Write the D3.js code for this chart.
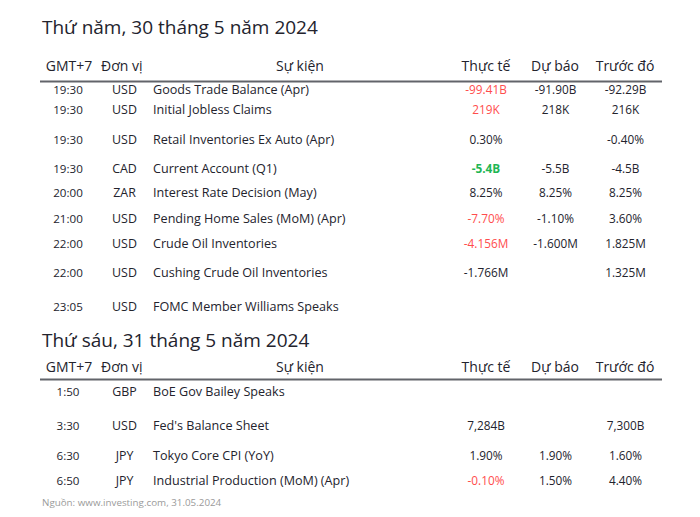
<!DOCTYPE html>
<html><head><meta charset="utf-8">
<script src="https://cdn.jsdelivr.net/npm/d3@7"></script>
<style>body{margin:0;background:#fff}svg{display:block}</style>
</head><body><div id="chart"></div>
<script>
// ---- data ----
const dayTitles = ["Thứ năm, 30 tháng 5 năm 2024", "Thứ sáu, 31 tháng 5 năm 2024"];
const headers = ["GMT+7", "Đơn vị", "Sự kiện", "Thực tế", "Dự báo", "Trước đó"];
const day1Times = ["19:30","19:30","19:30","19:30","20:00","21:00","22:00","22:00","23:05"];
const day1Units = ["USD","USD","USD","CAD","ZAR","USD","USD","USD","USD"];
const day1Events = ["Goods Trade Balance (Apr)","Initial Jobless Claims","Retail Inventories Ex Auto (Apr)","Current Account (Q1)","Interest Rate Decision (May)","Pending Home Sales (MoM) (Apr)","Crude Oil Inventories","Cushing Crude Oil Inventories","FOMC Member Williams Speaks"];
const day1Actual = ["-99.41B","219K","0.30%","-5.4B","8.25%","-7.70%","-4.156M","-1.766M",""];
const day1ActualTone = ["neg","neg","","pos","","neg","neg","",""];
const day1Forecast = ["-91.90B","218K","","-5.5B","8.25%","-1.10%","-1.600M","",""];
const day1Previous = ["-92.29B","216K","-0.40%","-4.5B","8.25%","3.60%","1.825M","1.325M",""];
const day2Times = ["1:50","3:30","6:30","6:50"];
const day2Units = ["GBP","USD","JPY","JPY"];
const day2Events = ["BoE Gov Bailey Speaks","Fed's Balance Sheet","Tokyo Core CPI (YoY)","Industrial Production (MoM) (Apr)"];
const day2Actual = ["","7,284B","1.90%","-0.10%"];
const day2ActualTone = ["","","","neg"];
const day2Forecast = ["","","1.90%","1.50%"];
const day2Previous = ["","7,300B","1.60%","4.40%"];
const sourceNote = "Nguồn: www.investing.com, 31.05.2024";

// ---- layout ----
const W = 700, H = 517;
const FONT = "'Open Sans', sans-serif";
const colX = [68, 124.5, 153, 486, 555.5, 625.5];
const headX = [69, 101, 300, 486, 555, 625];
const colors = {text:"#23232d", neg:"#ff4d4d", pos:"#1fb655", rule:"#62646a", note:"#9a9a9a"};
const sections = [
  {title: dayTitles[0], titleY: 27, headY: 66, ruleY: 81.5,
   rowY: [90,110,140,169,193,219,244,273,307],
   times: day1Times, units: day1Units, events: day1Events, actual: day1Actual, tone: day1ActualTone, forecast: day1Forecast, previous: day1Previous},
  {title: dayTitles[1], titleY: 340, headY: 367, ruleY: 379.5,
   rowY: [392,426,456,481],
   times: day2Times, units: day2Units, events: day2Events, actual: day2Actual, tone: day2ActualTone, forecast: day2Forecast, previous: day2Previous}
];

const svg = d3.select("#chart").append("svg").attr("width", W).attr("height", H)
  .style("font-family", FONT);

sections.forEach(sec => {
  const g = svg.append("g");
  g.append("text").attr("x", 42).attr("y", sec.titleY).attr("dy", "0.35em")
    .attr("font-size", 19).attr("fill", colors.text).text(sec.title);
  g.selectAll("text.head").data(headers).join("text").attr("class","head")
    .attr("x", (d,i) => headX[i]).attr("y", sec.headY).attr("dy","0.35em")
    .attr("text-anchor", (d,i) => i === 1 ? "start" : "middle")
    .attr("font-size", 14).attr("fill", colors.text)
    .text(d => d);
  g.append("line").attr("x1", 40).attr("x2", 662).attr("y1", sec.ruleY).attr("y2", sec.ruleY)
    .attr("stroke", colors.rule).attr("stroke-width", 1.8);

  const y = d3.scaleOrdinal().domain(d3.range(sec.times.length)).range(sec.rowY);
  const rows = g.selectAll("g.row").data(sec.times.map((t,i) => ({
      t, u: sec.units[i], e: sec.events[i], a: sec.actual[i], tone: sec.tone[i], f: sec.forecast[i], p: sec.previous[i], i})))
    .join("g").attr("class","row").attr("transform", d => `translate(0,${y(d.i)})`);
  const cell = (sel, x, anchor, acc, size) => sel.append("text").attr("x", x).attr("dy","0.35em")
    .attr("text-anchor", anchor).attr("font-size", size).attr("fill", colors.text).text(acc);
  cell(rows, colX[0], "middle", d => d.t, 11.6);
  cell(rows, colX[1], "middle", d => d.u, 12.4);
  cell(rows, colX[2], "start", d => d.e, 12.6);
  rows.append("text").attr("x", colX[3]).attr("dy","0.35em").attr("text-anchor","middle")
    .attr("font-size", 11.8).attr("fill", d => d.tone ? colors[d.tone] : colors.text)
    .attr("font-weight", d => d.tone === "pos" ? 700 : 400).text(d => d.a);
  cell(rows, colX[4], "middle", d => d.f, 11.8);
  cell(rows, colX[5], "middle", d => d.p, 11.8);
});

svg.append("text").attr("x", 42).attr("y", 503).attr("dy","0.35em")
  .attr("font-size", 9.8).attr("fill", colors.note).text(sourceNote);
</script></body></html>
